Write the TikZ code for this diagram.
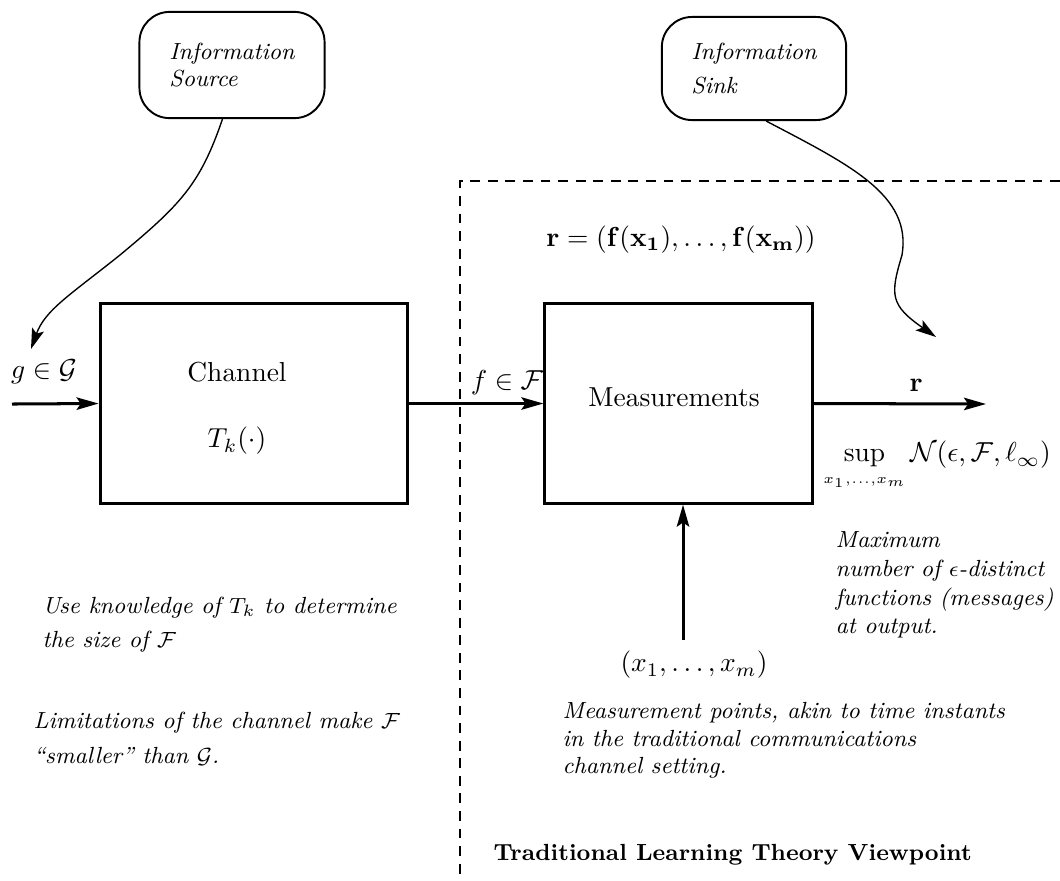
\documentclass[tikz,border=0pt]{standalone}
\usepackage{amsmath,amssymb}
\usetikzlibrary{arrows.meta}

\tikzset{
  box/.style={draw, line width=1.1pt, inner sep=0pt},
  cloud/.style={draw, line width=0.7pt, rounded corners=11pt},
  note/.style={font=\fontsize{8.5}{10}\selectfont\itshape, align=left, inner sep=0pt},
  flow/.style={line width=1.1pt, -{Stealth[length=8pt,width=4.5pt,inset=1.5pt]}},
  wiggle/.style={line width=0.5pt, -{Stealth[length=7.5pt,width=4.5pt,inset=1.5pt]}},
  frame/.style={line width=0.6pt, dash pattern=on 3.6pt off 2.8pt}
}

\begin{document}
\begin{tikzpicture}[x=0.0128cm, y=-0.0128cm]
    \useasboundingbox (0,0) rectangle (1060,880);

    % Define the points
    \coordinate (gin) at (12,404);
    \coordinate (rout) at (986,404);
    \coordinate (xin) at (683,640);
    \coordinate (gtip) at (31,349);
    \coordinate (rtip) at (936,337);
    \coordinate (TL) at (460,181);
    \coordinate (TR) at (1060,181);
    \coordinate (BL) at (460,880);

    % The boxes
    \node[box, minimum width=3.94cm, minimum height=2.55cm] (chan) at (254,403.5) {};
    \node[box, minimum width=3.42cm, minimum height=2.55cm] (meas) at (678.5,403.5) {};
    \node[cloud, note, minimum width=2.37cm, minimum height=1.36cm] (src) at (232,65) {Information\\Source};
    \node[cloud, note, minimum width=2.36cm, minimum height=1.32cm] (sink) at (754,68.5) {Information\\[2.7pt]Sink};

    % The dashed frame
    \draw[frame] (TR) -- (TL) -- (BL);

    % Labels
    \node (chtxt) at (237,372) {Channel};
    \node (tktxt) at (237,441) {$T_k(\cdot)$};
    \node (mtxt) at (674,397) {Measurements};
    \node (gtxt) at (44,372) {$g\in\mathcal{G}$};
    \node (ftxt) at (507,383) {$f\in\mathcal{F}$};
    \node (rlab) at (916,385) {$\mathbf{r}$};
    \node (rdef) at (681,240) {$\mathbf{r}=(\mathbf{f}(\mathbf{x_1}),\ldots,\mathbf{f}(\mathbf{x_m}))$};
    \node (supn) at (937,466) {$\sup\limits_{\scriptscriptstyle x_1,\ldots,x_m}\mathcal{N}(\epsilon,\mathcal{F},\ell_\infty)$};
    \node (xpts) at (694,665) {$(x_1,\ldots,x_m)$};

    % Notes
    \node[note, anchor=north west] (usek) at (42,596) {Use knowledge of $T_k$ to determine\\[2.7pt]the size of $\mathcal{F}$};
    \node[note, anchor=north west] (limit) at (33,711) {Limitations of the channel make $\mathcal{F}$\\[3pt]``smaller'' than $\mathcal{G}$.};
    \node[note, anchor=north west] (maxn) at (835,531) {Maximum\\[0.5pt]number of $\epsilon$-distinct\\[0.5pt]functions (messages)\\[0.5pt]at output.};
    \node[note, anchor=north west] (mpts) at (562,702) {Measurement points, akin to time instants\\in the traditional communications\\channel setting.};
    \node[anchor=base west, inner sep=0pt, font=\fontsize{8.5}{10}\selectfont\bfseries] (title) at (493,860) {Traditional Learning Theory Viewpoint};

    % Arrows
    \draw[flow] (gin) -- (chan.west);
    \draw[flow] (chan.east) -- (meas.west);
    \draw[flow] (meas.east) -- (rout);
    \draw[flow] (xin) -- (xin |- meas.south);

    \draw[wiggle] (src.-100) .. controls (200,185) and (180,205) .. (120,255) .. controls (70,295) and (45,310) .. (gtip);
    \draw[wiggle] (sink.-77) .. controls (850,165) and (912,195) .. (902,255) .. controls (890,295) and (890,305) .. (rtip);

\end{tikzpicture}
\end{document}
